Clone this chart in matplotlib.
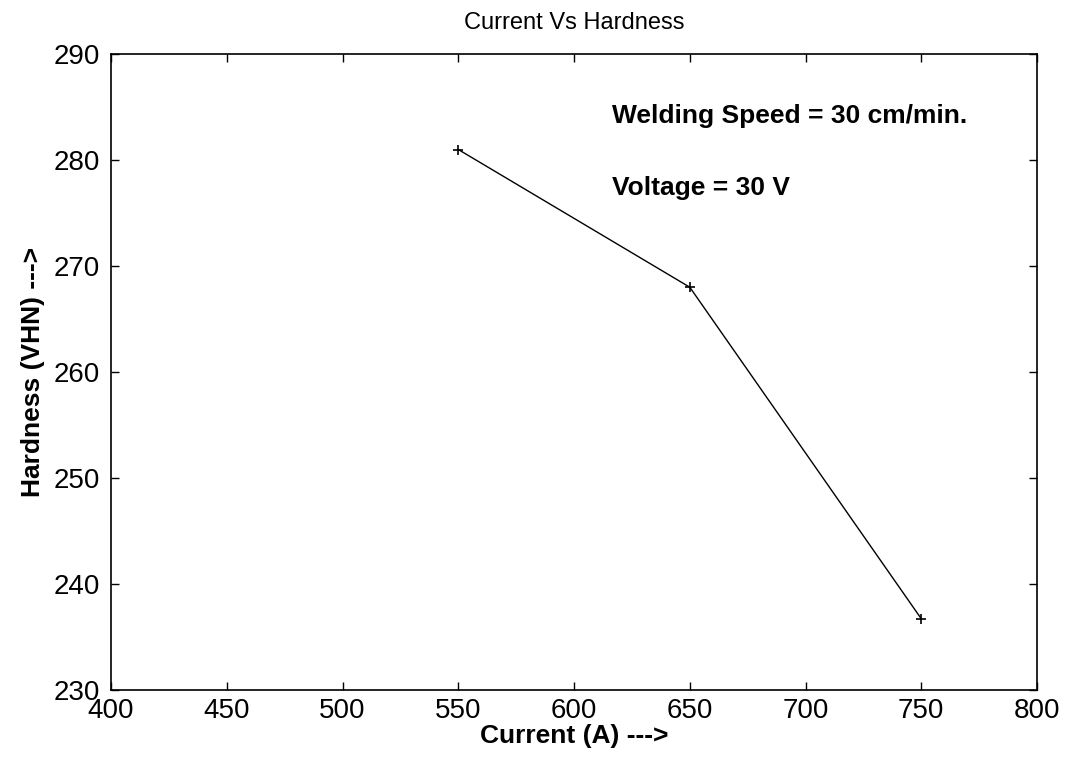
import matplotlib
matplotlib.use("Agg")
import matplotlib.pyplot as plt

current = [550, 650, 750]
hardness = [281.0, 268.0, 236.7]
xticks = [400, 450, 500, 550, 600, 650, 700, 750, 800]
yticks = [230, 240, 250, 260, 270, 280, 290]

plt.rcParams['font.family'] = ['Liberation Sans', 'DejaVu Sans']

fig = plt.figure(figsize=(10.68, 7.63), dpi=100)
ax = fig.add_axes([0.104, 0.096, 0.867, 0.833])
ax.plot(current, hardness, color='black', linewidth=1.0, marker='+', markersize=7, markeredgewidth=1.2)
ax.set_xlim(400, 800)
ax.set_ylim(230, 290)
ax.set_xticks(xticks)
ax.set_yticks(yticks)
ax.tick_params(direction='in', top=True, right=True, labelsize=20, length=6, width=1.0)
ax.tick_params(axis='x', pad=6)
ax.tick_params(axis='y', pad=8)
for s in ax.spines.values():
    s.set_linewidth(1.2)
ax.set_title('Current Vs Hardness', fontsize=17, pad=18)
ax.set_xlabel('Current (A) --->', fontsize=19, fontweight='bold', labelpad=0)
ax.set_ylabel('Hardness (VHN) --->', fontsize=19, fontweight='bold', labelpad=6)
ax.text(0.541, 0.902, 'Welding Speed = 30 cm/min.', transform=ax.transAxes, fontsize=19, fontweight='bold', va='center', ha='left')
ax.text(0.541, 0.789, 'Voltage = 30 V', transform=ax.transAxes, fontsize=19, fontweight='bold', va='center', ha='left')
fig.savefig('out.png', dpi=100)
